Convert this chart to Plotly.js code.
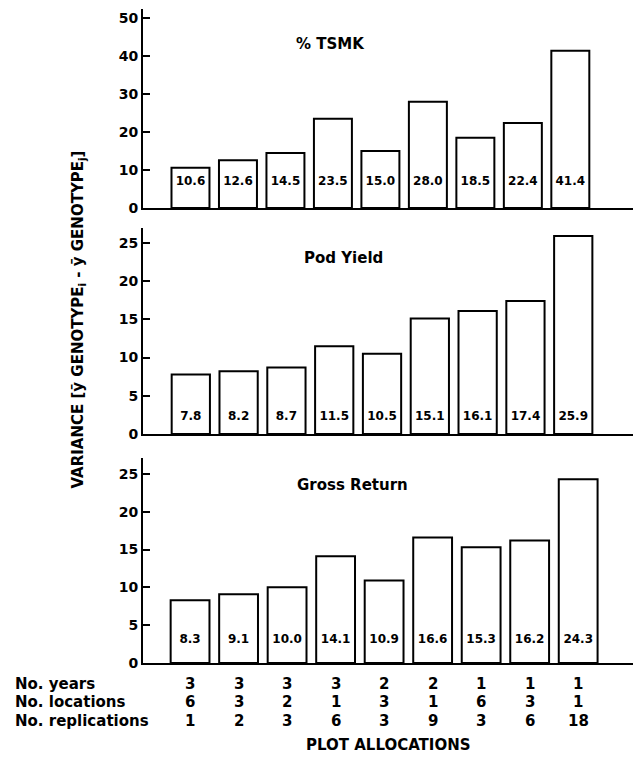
<!DOCTYPE html>
<html><head><meta charset="utf-8">
<script src="https://cdn.plot.ly/plotly-3.0.1.min.js"></script>
<style>html,body{margin:0;padding:0;background:#fff}#chart{width:633px;height:765px}</style>
</head><body><div id="chart"></div>
<script>
// ---- data ----
const categories = [0, 1, 2, 3, 4, 5, 6, 7, 8];
const tsmk = [10.6, 12.6, 14.5, 23.5, 15.0, 28.0, 18.5, 22.4, 41.4];
const podYield = [7.8, 8.2, 8.7, 11.5, 10.5, 15.1, 16.1, 17.4, 25.9];
const grossReturn = [8.3, 9.1, 10.0, 14.1, 10.9, 16.6, 15.3, 16.2, 24.3];
const noYears = [3, 3, 3, 3, 2, 2, 1, 1, 1];
const noLocations = [6, 3, 2, 1, 3, 1, 6, 3, 1];
const noReplications = [1, 2, 3, 6, 3, 9, 3, 6, 18];
const panelTitles = ['% TSMK', 'Pod Yield', 'Gross Return'];
const rowLabels = ['No. years', 'No. locations', 'No. replications'];
const tickVals1 = [0, 10, 20, 30, 40, 50];
const tickVals2 = [0, 5, 10, 15, 20, 25];
const tickVals3 = [0, 5, 10, 15, 20, 25];
const yTitle = 'VARIANCE [ȳ GENOTYPE<sub>i</sub> - ȳ GENOTYPE<sub>j</sub>]';
const xTitle = 'PLOT ALLOCATIONS';

// ---- layout helpers ----
const W = 633, H = 765;
const FONT = 'DejaVu Sans, Arial, sans-serif';
const py = p => 1 - p / H;
const px = p => p / W;

const panels = [
  {vals: tsmk, ticks: tickVals1, top: 9, bottom: 208, yr: [0, 52.4], xr: [-1.0, 9.32], labY: 6.8, title: {x: 330, y: 33}},
  {vals: podYield, ticks: tickVals2, top: 228, bottom: 434, yr: [0, 26.96], xr: [-1.0, 9.25], labY: 2.2, title: {x: 343, y: 258}},
  {vals: grossReturn, ticks: tickVals3, top: 458, bottom: 663, yr: [0, 27.1], xr: [-0.97, 9.13], labY: 3.0, title: {x: 352, y: 485}}
];

const data = [];
const layout = {
  width: W, height: H,
  margin: {l: 0, r: 0, t: 0, b: 0},
  paper_bgcolor: 'white', plot_bgcolor: 'white',
  showlegend: false,
  font: {family: FONT, color: 'black'},
  annotations: []
};

panels.forEach((p, i) => {
  const n = i === 0 ? '' : String(i + 1);
  data.push({
    type: 'bar', x: categories, y: p.vals, xaxis: 'x' + n, yaxis: 'y' + n,
    width: 0.8,
    marker: {color: 'white', line: {color: 'black', width: 2}},
    hoverinfo: 'skip'
  });
  data.push({
    type: 'scatter', mode: 'text', x: categories, y: categories.map(() => p.labY),
    text: p.vals.map(v => v.toFixed(1)),
    textfont: {family: FONT, size: 12, weight: 'bold', color: 'black'},
    xaxis: 'x' + n, yaxis: 'y' + n, cliponaxis: false, hoverinfo: 'skip'
  });
  layout['xaxis' + n] = {
    domain: [px(143), 1], range: p.xr, anchor: 'y' + n,
    showline: true, linewidth: 2, linecolor: 'black',
    showticklabels: false, ticks: '', showgrid: false, zeroline: false, fixedrange: true
  };
  layout['yaxis' + n] = {
    domain: [py(p.bottom), py(p.top)], range: p.yr, anchor: 'x' + n,
    showline: true, linewidth: 2, linecolor: 'black',
    ticks: 'inside', ticklen: 7, tickwidth: 2, tickcolor: 'black',
    tickvals: p.ticks, ticktext: p.ticks.map(String),
    tickfont: {family: FONT, size: 14, weight: 'bold', color: 'black'},
    showgrid: false, zeroline: false, fixedrange: true
  };
  layout.annotations.push({
    xref: 'paper', yref: 'paper', x: px(p.title.x), y: py(p.title.y),
    text: panelTitles[i], showarrow: false,
    font: {family: FONT, size: 15, weight: 'bold', color: 'black'}
  });
});

// table rows under bottom panel
const rows = [noYears, noLocations, noReplications];
const rowY = [695, 713, 732];
rows.forEach((r, ri) => {
  layout.annotations.push({
    xref: 'paper', yref: 'paper', x: px(13), y: py(rowY[ri]), xanchor: 'left',
    text: rowLabels[ri], showarrow: false,
    font: {family: FONT, size: 15, weight: 'bold', color: 'black'}
  });
  r.forEach((v, ci) => {
    layout.annotations.push({
      xref: 'x3', yref: 'paper', x: categories[ci], y: py(rowY[ri]),
      text: String(v), showarrow: false,
      font: {family: FONT, size: 15, weight: 'bold', color: 'black'}
    });
  });
});

layout.annotations.push({
  xref: 'paper', yref: 'paper', x: px(388), y: py(756),
  text: xTitle, showarrow: false,
  font: {family: FONT, size: 15, weight: 'bold', color: 'black'}
});
layout.annotations.push({
  xref: 'paper', yref: 'paper', x: px(66), y: py(320), textangle: -90,
  text: yTitle, showarrow: false,
  font: {family: FONT, size: 15, weight: 'bold', color: 'black'}
});

Plotly.newPlot('chart', data, layout, {displayModeBar: false, staticPlot: true});
</script>
</body></html>
